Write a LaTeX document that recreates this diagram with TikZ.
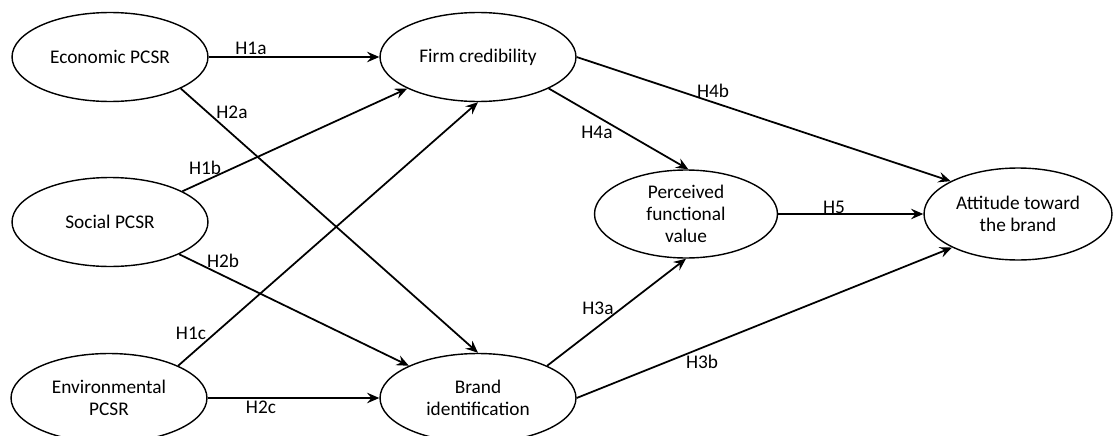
\documentclass[tikz,border=0pt]{standalone}
\usepackage{fontspec}
\setmainfont{Carlito}
\usetikzlibrary{arrows.meta, shapes.geometric}

\tikzset{
    construct/.style={draw, ellipse, line width=0.8pt, align=center,
        minimum width=3.92cm, minimum height=1.78cm, inner sep=0pt,
        font=\fontsize{11}{12.5}\selectfont},
    hpath/.style={->, line width=1pt},
    hyp/.style={inner sep=0pt, font=\fontsize{11}{12.5}\selectfont}
}

\begin{document}
\begin{tikzpicture}[x=0.02cm, y=-0.02cm, >={Stealth[length=7pt, width=6pt, inset=2.5pt]}]
    % --- Frame (1113 x 436 px) ---
    \useasboundingbox (0,0) rectangle (1113,436);

    % --- Constructs ---
    % PCSR dimensions on the left
    \node[construct] (econ) at (110,57) {Economic PCSR};
    \node[construct] (soc) at (110,222) {Social PCSR};
    \node[construct] (env) at (109,398) {Environmental\\PCSR};
    % Mediators
    \node[construct] (firm) at (478,57) {Firm credibility};
    \node[construct] (brand) at (478,398) {Brand\\identification};
    \node[construct, minimum width=3.66cm, minimum height=1.76cm] (pfv) at (686,214) {Perceived\\functional\\value};
    % Outcome
    \node[construct, minimum width=3.76cm, minimum height=1.84cm] (att) at (1018,214) {Attitude toward\\the brand};

    % --- Paths ---
    \draw[hpath] (econ.east) -- (firm.west);
    \draw[hpath] (econ.336) -- (brand.north);
    \draw[hpath] (soc.23) -- (firm.204);
    \draw[hpath] (soc.335) -- (brand.155);
    \draw[hpath] (env.25) -- (firm.south);
    \draw[hpath] (env.east) -- (brand.west);
    \draw[hpath] (firm.336) -- (pfv.87);
    \draw[hpath] (firm.east) -- (att.154);
    \draw[hpath] (brand.25) -- (pfv.south);
    \draw[hpath] (brand.east) -- (att.207);
    \draw[hpath] (pfv.east) -- (att.west);

    % --- Hypothesis labels ---
    \node[hyp] (h1a) at (251,48) {H1a};
    \node[hyp] (h2a) at (232,112) {H2a};
    \node[hyp] (h1b) at (205,168) {H1b};
    \node[hyp] (h2b) at (223,261) {H2b};
    \node[hyp] (h1c) at (191,333) {H1c};
    \node[hyp] (h2c) at (261,407) {H2c};
    \node[hyp] (h4a) at (597,132) {H4a};
    \node[hyp] (h4b) at (713,91) {H4b};
    \node[hyp] (h5) at (834,207) {H5};
    \node[hyp] (h3a) at (598,308) {H3a};
    \node[hyp] (h3b) at (702,362) {H3b};

\end{tikzpicture}
\end{document}
